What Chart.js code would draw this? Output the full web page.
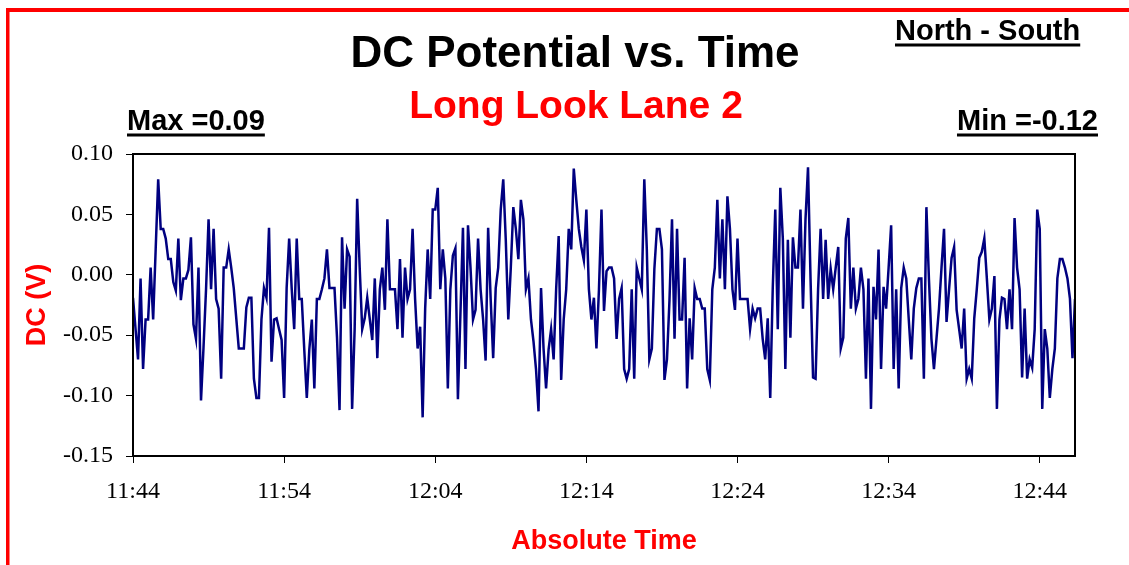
<!DOCTYPE html>
<html>
<head>
<meta charset="utf-8">
<script src="https://cdn.jsdelivr.net/npm/chart.js@4.4.0/dist/chart.umd.min.js"></script>
<style>
html, body { margin: 0; padding: 0; background: #fff; }
</style>
</head>
<body>
<canvas id="myChart" width="1129" height="565"></canvas>
<script>
// one reading every 10 seconds, starting 11:44:00 (null = no visible vertex, line passes through)
var sampleSec = 10;
var dcVolts = [
  -0.019, null, -0.070, -0.003, -0.078, -0.037, -0.037, 0.006, -0.037, 0.021,
  0.079, 0.038, 0.038, 0.030, 0.013, 0.013, -0.006, -0.013, 0.030, -0.021,
  -0.003, -0.003, 0.004, 0.031, -0.041, -0.053, 0.006, -0.104, -0.060, -0.012,
  0.046, -0.012, 0.038, -0.020, -0.028, -0.086, 0.006, 0.006, 0.021, 0.006,
  -0.011, -0.036, -0.061, -0.061, -0.061, -0.027, -0.019, -0.019, -0.086, -0.102,
  -0.102, -0.037, -0.011, -0.019, 0.039, -0.072, -0.037, -0.036, -0.045, -0.054,
  -0.102, -0.011, 0.030, -0.011, -0.045, 0.030, -0.020, -0.020, -0.062, -0.102,
  -0.062, -0.037, -0.094, -0.020, -0.020, -0.012, -0.003, 0.021, -0.011, -0.011,
  -0.011, -0.052, -0.112, 0.031, -0.028, 0.021, 0.015, -0.111, -0.045, 0.063,
  0.006, -0.045, -0.036, -0.019, null, -0.054, -0.003, -0.069, -0.012, 0.006,
  -0.029, 0.046, -0.012, -0.012, -0.012, -0.045, 0.013, -0.052, 0.006, -0.020,
  -0.012, 0.038, -0.020, -0.061, -0.043, -0.118, -0.028, 0.021, -0.020, 0.054,
  0.054, 0.072, -0.012, 0.021, -0.003, -0.094, -0.012, 0.016, 0.022, -0.103,
  null, 0.039, -0.078, 0.041, 0.006, -0.037, -0.029, 0.030, -0.012, -0.037,
  -0.071, 0.039, -0.020, -0.069, -0.011, 0.006, 0.054, 0.079, 0.029, -0.037,
  0.006, 0.056, 0.038, 0.013, 0.062, 0.046, -0.012, -0.003, -0.037, -0.055,
  -0.078, -0.113, -0.011, -0.061, -0.094, -0.062, -0.045, -0.070, -0.012, 0.032,
  -0.087, -0.037, -0.012, 0.038, 0.021, 0.088, 0.062, 0.038, 0.023, 0.012,
  0.054, -0.012, -0.037, -0.019, -0.061, -0.012, 0.054, -0.030, 0.003, 0.006,
  0.006, -0.003, -0.053, -0.020, -0.011, -0.078, -0.086, -0.078, -0.012, -0.086,
  0.006, -0.003, -0.012, 0.079, 0.021, -0.070, -0.061, 0.005, 0.038, 0.038,
  0.021, -0.087, -0.070, -0.021, 0.046, -0.053, 0.038, -0.037, -0.037, 0.014,
  -0.094, -0.036, -0.070, -0.011, -0.020, -0.020, -0.028, -0.028, -0.078, -0.087,
  -0.012, 0.006, 0.062, -0.003, 0.046, -0.012, 0.065, 0.038, -0.012, -0.029,
  0.030, -0.020, -0.020, -0.020, -0.020, -0.045, -0.028, -0.036, -0.028, -0.028,
  -0.053, -0.070, -0.036, -0.102, -0.011, 0.054, -0.045, 0.072, 0.030, -0.078,
  0.029, -0.052, 0.031, 0.006, 0.006, 0.054, -0.028, 0.046, 0.089, -0.003,
  -0.085, -0.086, -0.012, 0.038, -0.020, 0.029, -0.020, 0.005, -0.012, 0.006,
  0.023, -0.061, -0.052, 0.030, 0.047, -0.028, 0.006, -0.028, -0.020, 0.006,
  -0.012, -0.086, -0.003, -0.111, -0.010, -0.037, 0.021, -0.078, -0.010, -0.028,
  0.006, 0.041, -0.078, -0.012, -0.094, -0.011, 0.006, -0.003, -0.037, -0.070,
  -0.028, -0.011, -0.003, -0.003, -0.086, 0.056, -0.003, -0.053, -0.078, -0.053,
  -0.028, 0.006, 0.038, -0.039, -0.012, 0.014, 0.023, -0.029, -0.045, -0.061,
  -0.028, -0.086, -0.078, -0.086, -0.036, -0.012, 0.014, 0.019, 0.030, -0.003,
  -0.037, -0.028, -0.001, -0.111, -0.037, -0.019, -0.020, -0.045, -0.012, -0.045,
  0.047, 0.006, -0.012, -0.085, -0.028, -0.086, -0.070, -0.077, -0.045, 0.054,
  0.038, -0.111, -0.045, -0.061, -0.102, -0.078, -0.061, -0.003, 0.013, 0.013,
  0.006, -0.003, -0.020, -0.069, -0.020
];
var timeTicks = [0, 600, 1200, 1800, 2400, 3000, 3600];
var timeLabels = ['11:44', '11:54', '12:04', '12:14', '12:24', '12:34', '12:44'];
var voltTicks = [-0.15, -0.10, -0.05, 0.00, 0.05, 0.10];

var points = dcVolts.map(function (v, i) { return {x: i * sampleSec, y: v}; });

function putText(ctx, text, x, y, font, color, align, underline) {
    ctx.font = font;
    ctx.fillStyle = color;
    ctx.textAlign = align;
    ctx.textBaseline = 'alphabetic';
    ctx.fillText(text, x, y);
    if (underline) {
        var w = ctx.measureText(text).width;
        var x0 = align === 'right' ? x - w : (align === 'center' ? x - w / 2 : x);
        ctx.fillRect(x0, y + underline[0], w, underline[1]);
    }
}

var decor = {
    id: 'decor',
    beforeDraw: function (chart) {
        var ctx = chart.ctx;
        ctx.save();
        ctx.fillStyle = '#fff';
        ctx.fillRect(0, 0, chart.width, chart.height);
        ctx.restore();
    },
    afterDraw: function (chart) {
        var ctx = chart.ctx, a = chart.chartArea;
        ctx.save();
        ctx.strokeStyle = '#000';
        ctx.lineWidth = 2;
        ctx.strokeRect(a.left, a.top, a.right - a.left, a.bottom - a.top);
        // red frame, top and left
        ctx.fillStyle = '#ff0000';
        ctx.fillRect(6, 8, chart.width - 6, 4);
        ctx.fillRect(6, 8, 3.5, chart.height - 8);

        putText(ctx, 'DC Potential vs. Time', 575, 67, 'bold 44px "Liberation Sans", Arial, sans-serif', '#000', 'center');
        putText(ctx, 'Long Look Lane 2', 576, 118, 'bold 39px "Liberation Sans", Arial, sans-serif', '#ff0000', 'center');
        putText(ctx, 'North - South', 895, 39.5, 'bold 29px "Liberation Sans", Arial, sans-serif', '#000', 'left', [4, 3]);
        putText(ctx, 'Max =0.09', 127, 130, 'bold 29px "Liberation Sans", Arial, sans-serif', '#000', 'left', [3.5, 3]);
        putText(ctx, 'Min =-0.12', 1098, 130, 'bold 29px "Liberation Sans", Arial, sans-serif', '#000', 'right', [3.5, 3]);
        ctx.restore();
    }
};

var tickFont = {family: '"Liberation Serif", "Times New Roman", serif', size: 24};
var titleFont = {family: '"Liberation Sans", Arial, sans-serif', size: 27, weight: 'bold'};

var ctx = document.getElementById('myChart').getContext('2d');
var myChart = new Chart(ctx, {
    type: 'line',
    data: {
        datasets: [{
            label: 'DC',
            data: points,
            borderColor: '#000080',
            borderWidth: 2.5,
            pointRadius: 0,
            tension: 0,
            spanGaps: true,
            fill: false
        }]
    },
    options: {
        responsive: false,
        animation: false,
        layout: {padding: {top: 154, right: 54, left: 0, bottom: 0}},
        plugins: {
            legend: {display: false},
            tooltip: {enabled: false}
        },
        scales: {
            x: {
                type: 'linear',
                min: 0,
                max: 3740,
                afterFit: function (s) { s.height = 109; },
                afterBuildTicks: function (s) {
                    s.ticks = timeTicks.map(function (v) { return {value: v}; });
                },
                ticks: {
                    font: tickFont,
                    color: '#000',
                    padding: 14,
                    maxRotation: 0,
                    autoSkip: false,
                    callback: function (v) { return timeLabels[timeTicks.indexOf(v)]; }
                },
                grid: {drawOnChartArea: false, drawTicks: true, tickLength: 7, color: '#000', lineWidth: 1},
                border: {display: true, color: '#000', width: 2},
                title: {
                    display: true,
                    text: 'Absolute Time',
                    color: '#ff0000',
                    font: titleFont,
                    padding: {top: 0, bottom: 7}
                }
            },
            y: {
                min: -0.15,
                max: 0.10,
                afterFit: function (s) { s.width = 133; },
                afterBuildTicks: function (s) {
                    s.ticks = voltTicks.map(function (v) { return {value: v}; });
                },
                ticks: {
                    font: tickFont,
                    color: '#000',
                    padding: 13,
                    callback: function (v) { return v.toFixed(2); }
                },
                grid: {drawOnChartArea: false, drawTicks: true, tickLength: 7, color: '#000', lineWidth: 1},
                border: {display: true, color: '#000', width: 2},
                title: {
                    display: true,
                    text: 'DC (V)',
                    color: '#ff0000',
                    font: titleFont,
                    padding: {top: 21, bottom: 0}
                }
            }
        }
    },
    plugins: [decor]
});
</script>
</body>
</html>
